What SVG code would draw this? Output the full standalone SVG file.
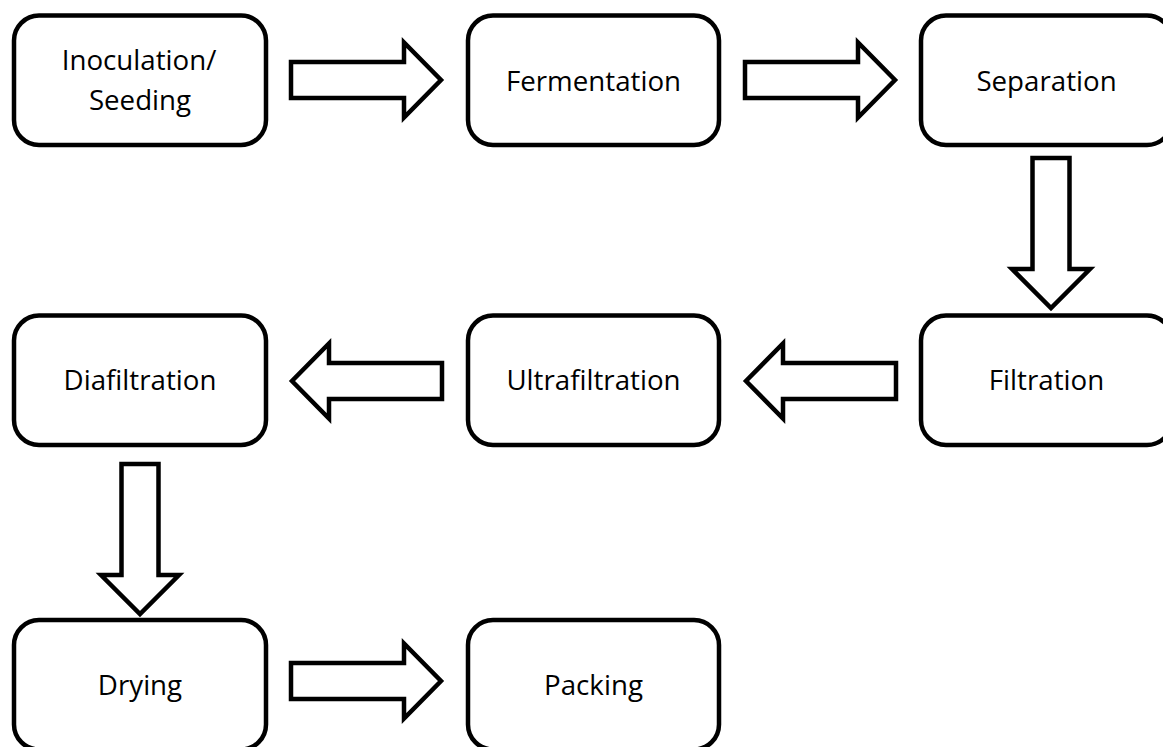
<svg xmlns="http://www.w3.org/2000/svg" xmlns:xlink="http://www.w3.org/1999/xlink" width="1163" height="747" viewBox="0 0 1163 747">
  <style>
    .box { fill: #ffffff; stroke: #000000; stroke-width: 4.5; }
    .arrow { fill: #ffffff; stroke: #000000; stroke-width: 4.5; stroke-linejoin: miter; }
    .label { font-family: "Open Sans", "Liberation Sans", sans-serif; font-size: 27.7px; fill: #000000; text-anchor: middle; font-variant-ligatures: none; }
  </style>
  <defs>
    <path id="arrowR" d="M0,-18 H113 V-37.5 L150,0 L113,37.5 V18 H0 Z"/>
    <path id="arrowD" d="M-18.5,0 V111 H-39 L0,150 L39,111 H18.5 V0 Z"/>
  </defs>
  <rect width="1163" height="747" fill="#ffffff"/>

  <g id="connectors">
    <use xlink:href="#arrowR" href="#arrowR" class="arrow" transform="translate(291,80)"/>
    <use xlink:href="#arrowR" href="#arrowR" class="arrow" transform="translate(745,80)"/>
    <use xlink:href="#arrowD" href="#arrowD" class="arrow" transform="translate(1051,158)"/>
    <use xlink:href="#arrowR" href="#arrowR" class="arrow" transform="translate(896,381) scale(-1,1)"/>
    <use xlink:href="#arrowR" href="#arrowR" class="arrow" transform="translate(442,381) scale(-1,1)"/>
    <use xlink:href="#arrowD" href="#arrowD" class="arrow" transform="translate(140,464)"/>
    <use xlink:href="#arrowR" href="#arrowR" class="arrow" transform="translate(291,681)"/>
  </g>

  <g id="node-inoculation">
    <rect class="box" x="14" y="15.5" width="252" height="129.5" rx="25" ry="25"/>
    <text class="label" x="139" y="69.5">Inoculation/</text>
    <text class="label" x="140" y="110">Seeding</text>
  </g>
  <g id="node-fermentation">
    <rect class="box" x="468" y="15.5" width="251" height="129.5" rx="25" ry="25"/>
    <text class="label" x="593.5" y="90.5">Fermentation</text>
  </g>
  <g id="node-separation">
    <rect class="box" x="921" y="15.5" width="251" height="129.5" rx="25" ry="25"/>
    <text class="label" x="1046.5" y="90.5">Separation</text>
  </g>
  <g id="node-filtration">
    <rect class="box" x="921" y="315.5" width="251" height="129.5" rx="25" ry="25"/>
    <text class="label" x="1046.5" y="390">Filtration</text>
  </g>
  <g id="node-ultrafiltration">
    <rect class="box" x="468" y="315.5" width="251" height="129.5" rx="25" ry="25"/>
    <text class="label" x="593.5" y="390">Ultrafiltration</text>
  </g>
  <g id="node-diafiltration">
    <rect class="box" x="14" y="315.5" width="252" height="129.5" rx="25" ry="25"/>
    <text class="label" x="140" y="390">Diafiltration</text>
  </g>
  <g id="node-drying">
    <rect class="box" x="14" y="620" width="252" height="129.5" rx="25" ry="25"/>
    <text class="label" x="140" y="695">Drying</text>
  </g>
  <g id="node-packing">
    <rect class="box" x="468" y="620" width="251" height="129.5" rx="25" ry="25"/>
    <text class="label" x="593.5" y="695">Packing</text>
  </g>
</svg>
